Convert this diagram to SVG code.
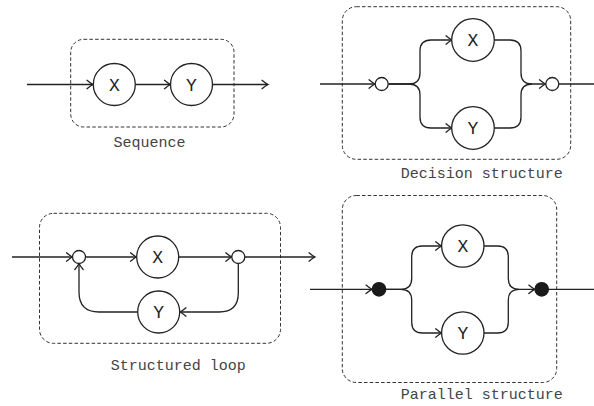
<svg xmlns="http://www.w3.org/2000/svg" width="594" height="406" viewBox="0 0 594 406">
<style>
.frame{fill:none;stroke:#333;stroke-width:1;stroke-dasharray:3.5,2.2}
.node{fill:#fff;stroke:#222;stroke-width:1.3}
.dot{fill:#1a1a1a;stroke:#1a1a1a;stroke-width:1.3}
.edge{fill:none;stroke:#222;stroke-width:1.3;marker-end:url(#arr)}
.plain{fill:none;stroke:#222;stroke-width:1.3}
.lbl{font-family:"Liberation Mono","DejaVu Sans Mono",monospace;font-size:18px;fill:#222;text-anchor:middle}
.cap{font-family:"Liberation Mono","DejaVu Sans Mono",monospace;font-size:15px;fill:#444;text-anchor:middle}
</style>
<defs>
<marker id="arr" markerUnits="userSpaceOnUse" markerWidth="12" markerHeight="12" refX="0" refY="0" viewBox="-8 -6 10 12" orient="auto" overflow="visible">
<path d="M-6,-4.2 Q-2,-0.8 0,0 Q-2,0.8 -6,4.2" fill="none" stroke="#222" stroke-width="1.3" stroke-linecap="round"/>
</marker>
</defs>
<rect width="594" height="406" fill="#fff"/>

<g id="frames">
<rect class="frame" x="70.7" y="39.3" width="163.3" height="87.7" rx="13"/>
<rect class="frame" x="342.3" y="6.7" width="228.4" height="152.6" rx="14"/>
<rect class="frame" x="39.5" y="213.3" width="241" height="130" rx="14"/>
<rect class="frame" x="342.3" y="195.5" width="214.4" height="187" rx="14"/>
</g>

<g id="connectors">
<!-- Sequence -->
<path class="edge" d="M27,84.5 H93"/>
<path class="edge" d="M135.5,84.5 H170.5"/>
<path class="edge" d="M212.5,84.5 H268"/>
<!-- Decision -->
<path class="edge" d="M320,84 H375"/>
<path class="edge" d="M388.5,84 H409 Q420,84 420,73 V51 Q420,40 431,40 H452"/>
<path class="edge" d="M388.5,84 H409 Q420,84 420,95 V117 Q420,128 431,128 H452"/>
<path class="edge" d="M494.3,40 H510 Q521,40 521,51 V73 Q521,84 532,84 H545.5"/>
<path class="plain" d="M494.3,128 H510 Q521,128 521,117 V95 Q521,84 532,84"/>
<path class="plain" d="M559,84 H594"/>
<!-- Loop -->
<path class="edge" d="M12,257 H72.5"/>
<path class="edge" d="M85.5,257 H136.5"/>
<path class="edge" d="M178.8,257 H231.8"/>
<path class="edge" d="M244.8,257 H315"/>
<path class="edge" d="M238.3,263.5 V293 Q238.3,312 219,312 H180"/>
<path class="edge" d="M137.5,312 H99 Q79,312 79,292 V263.5"/>
<!-- Parallel -->
<path class="edge" d="M310,289.3 H372"/>
<path class="edge" d="M386,289.3 H401 Q411.7,289.3 411.7,278.6 V256.7 Q411.7,246 422.4,246 H441.7"/>
<path class="edge" d="M386,289.3 H401 Q411.7,289.3 411.7,300 V322.3 Q411.7,333 422.4,333 H441.7"/>
<path class="edge" d="M484,246 H497.6 Q508.3,246 508.3,256.7 V278.6 Q508.3,289.3 519,289.3 H534.8"/>
<path class="plain" d="M484,333 H497.6 Q508.3,333 508.3,322.3 V300 Q508.3,289.3 519,289.3"/>
<path class="plain" d="M548.5,289.3 H594"/>
</g>

<g id="seq-x"><circle class="node" cx="114.3" cy="84.5" r="21"/><text class="lbl" x="114.3" y="90.5">X</text></g>
<g id="seq-y"><circle class="node" cx="191.5" cy="84.5" r="21"/><text class="lbl" x="191.5" y="90.5">Y</text></g>
<g id="seq-label"><text class="cap" x="149.5" y="146.5">Sequence</text></g>

<g id="dec-in"><circle class="node" cx="381.7" cy="84" r="6.5"/></g>
<g id="dec-x"><circle class="node" cx="473" cy="40" r="21.3"/><text class="lbl" x="473" y="46">X</text></g>
<g id="dec-y"><circle class="node" cx="473" cy="128" r="21.3"/><text class="lbl" x="473" y="134">Y</text></g>
<g id="dec-out"><circle class="node" cx="552.3" cy="84" r="6.5"/></g>
<g id="dec-label"><text class="cap" x="481.7" y="178.3">Decision structure</text></g>

<g id="loop-in"><circle class="node" cx="79" cy="257" r="6.5"/></g>
<g id="loop-x"><circle class="node" cx="157.7" cy="257" r="21"/><text class="lbl" x="157.7" y="263">X</text></g>
<g id="loop-y"><circle class="node" cx="158.7" cy="312" r="21"/><text class="lbl" x="158.7" y="318">Y</text></g>
<g id="loop-out"><circle class="node" cx="238.3" cy="257" r="6.5"/></g>
<g id="loop-label"><text class="cap" x="178.2" y="370">Structured loop</text></g>

<g id="par-in"><circle class="dot" cx="379" cy="289.3" r="6.7"/></g>
<g id="par-x"><circle class="node" cx="462.8" cy="246" r="21.2"/><text class="lbl" x="462.8" y="252">X</text></g>
<g id="par-y"><circle class="node" cx="462.8" cy="333" r="21.2"/><text class="lbl" x="462.8" y="339">Y</text></g>
<g id="par-out"><circle class="dot" cx="541.7" cy="289.3" r="6.7"/></g>
<g id="par-label"><text class="cap" x="481.7" y="399">Parallel structure</text></g>
</svg>
